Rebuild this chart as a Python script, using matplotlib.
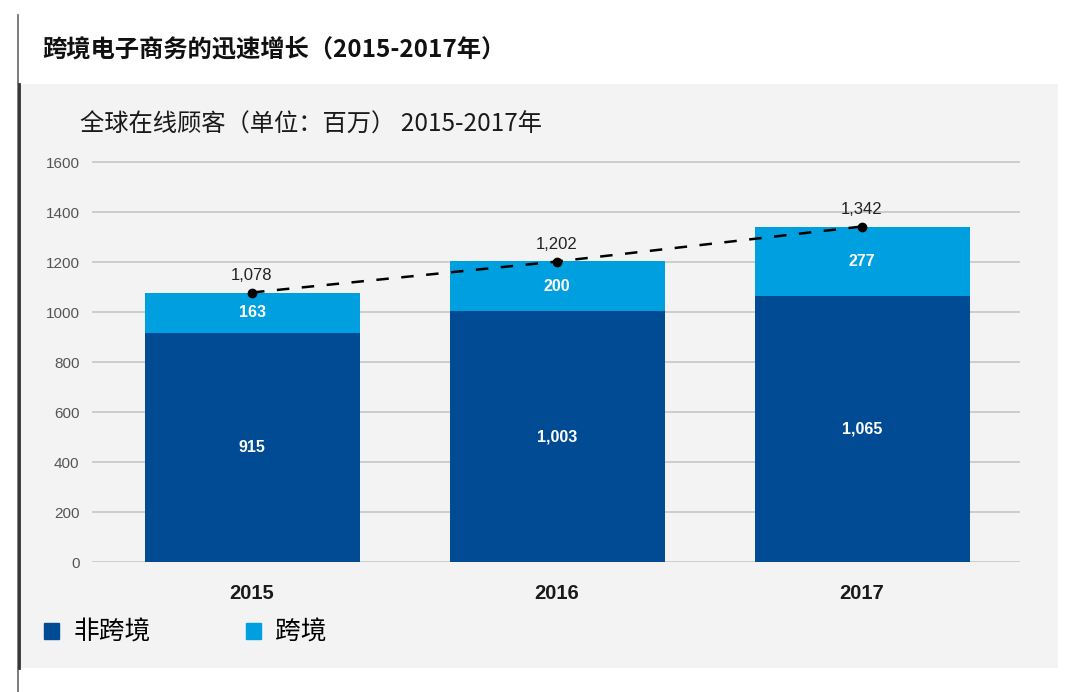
import matplotlib
matplotlib.use("Agg")
import numpy as np
import matplotlib.pyplot as plt
import matplotlib.patches as mpatches
from matplotlib.lines import Line2D

# ── Data ─────────────────────────────────────────────────────────────────────
years = ["2015", "2016", "2017"]
domestic = [915, 1003, 1065]        # 非跨境
cross_border = [163, 200, 277]      # 跨境
totals = [1078, 1202, 1342]

TITLE = "跨境电子商务的迅速增长（2015-2017年）"
SUBTITLE = "全球在线顾客（单位：百万） 2015-2017年"
LEGEND_LABELS = ["非跨境", "跨境"]

DARK_BLUE = "#004b93"
LIGHT_BLUE = "#00a0e0"
PANEL = "#f3f3f3"
GRID = "#c9c9c9"
CJK = ["Noto Sans CJK SC", "DejaVu Sans"]
LATIN = ["Liberation Sans", "DejaVu Sans"]
# ─────────────────────────────────────────────────────────────────────────────

W, H = 1080, 692
fig = plt.figure(figsize=(W / 100, H / 100), dpi=100)
fig.patch.set_facecolor("white")


def fx(px):
    return px / W


def fy(py):
    return 1 - py / H


# grey panel + left rule (behind the axes)
fig.patches.append(mpatches.Rectangle((fx(20), fy(668)), fx(1058 - 20), (668 - 84) / H,
                                      transform=fig.transFigure, facecolor=PANEL,
                                      edgecolor="none", zorder=-5))
fig.add_artist(Line2D([fx(18), fx(18)], [fy(15), fy(692)], color="#666666", lw=1.2, zorder=-4))
fig.add_artist(Line2D([fx(19.5), fx(19.5)], [fy(84), fy(668)], color="#333333", lw=2.0, zorder=-4))

fig.text(fx(42), fy(50), TITLE, family=CJK, fontsize=17.5, fontweight="bold",
         color="#111111", va="center", ha="left")
fig.text(fx(80), fy(125), SUBTITLE, family=CJK, fontsize=17.5,
         color="#1a1a1a", va="center", ha="left")

# axes: y=0 at px 562, 0.25 px per unit; bar centres at 252, 557, 862 px
ymax = 1650
ax_bottom, ax_top = 562, 562 - ymax * 0.25
ax_left, ax_right = 92, 1020
ax = fig.add_axes([fx(ax_left), fy(ax_bottom), fx(ax_right - ax_left), (ax_bottom - ax_top) / H])
ax.set_facecolor("none")

x = np.arange(len(years))
spacing = 305
ax.set_xlim(-(252 - ax_left) / spacing, 2 + (ax_right - 862) / spacing)
ax.set_ylim(0, ymax)

width = 215 / spacing
ax.bar(x, domestic, width=width, color=DARK_BLUE, zorder=3)
ax.bar(x, cross_border, width=width, bottom=domestic, color=LIGHT_BLUE, zorder=3)

for i in range(len(years)):
    ax.text(x[i], domestic[i] / 2, f"{domestic[i]:,}", ha="center", va="center",
            color="white", fontsize=11.5, fontweight="bold", family=LATIN, zorder=5)
    ax.text(x[i], domestic[i] + cross_border[i] / 2, f"{cross_border[i]:,}",
            ha="center", va="center", color="white", fontsize=11.5,
            fontweight="bold", family=LATIN, zorder=5)
    ax.text(x[i], totals[i] + 38, f"{totals[i]:,}", ha="center", va="bottom",
            color="#222222", fontsize=12, family=LATIN, zorder=5)

ax.plot(x, totals, color="black", lw=1.8, dashes=(5, 5), marker="o",
        markersize=6, zorder=6)

ax.set_yticks(np.arange(0, 1601, 200))
ax.set_yticklabels([str(v) for v in range(0, 1601, 200)], family=LATIN,
                   fontsize=11, color="#555555")
ax.set_xticks(x)
ax.set_xticklabels(years, family=LATIN, fontsize=14.5, fontweight="bold", color="#1a1a1a")
ax.tick_params(axis="y", length=0, pad=9)
ax.tick_params(axis="x", length=0, pad=16)
ax.grid(axis="y", color=GRID, lw=1.3, zorder=1)
for s in ax.spines.values():
    s.set_visible(False)

handles = [mpatches.Patch(color=DARK_BLUE, label=LEGEND_LABELS[0]),
           mpatches.Patch(color=LIGHT_BLUE, label=LEGEND_LABELS[1])]
fig.legend(handles=handles, loc="center left", bbox_to_anchor=(fx(44), fy(633)),
           ncol=2, frameon=False, prop={"family": CJK, "size": 18.5},
           handlelength=0.6, handleheight=0.55, handletextpad=0.55,
           columnspacing=3.7, borderpad=0, borderaxespad=0)

plt.savefig("out.png", dpi=100)
plt.close()
